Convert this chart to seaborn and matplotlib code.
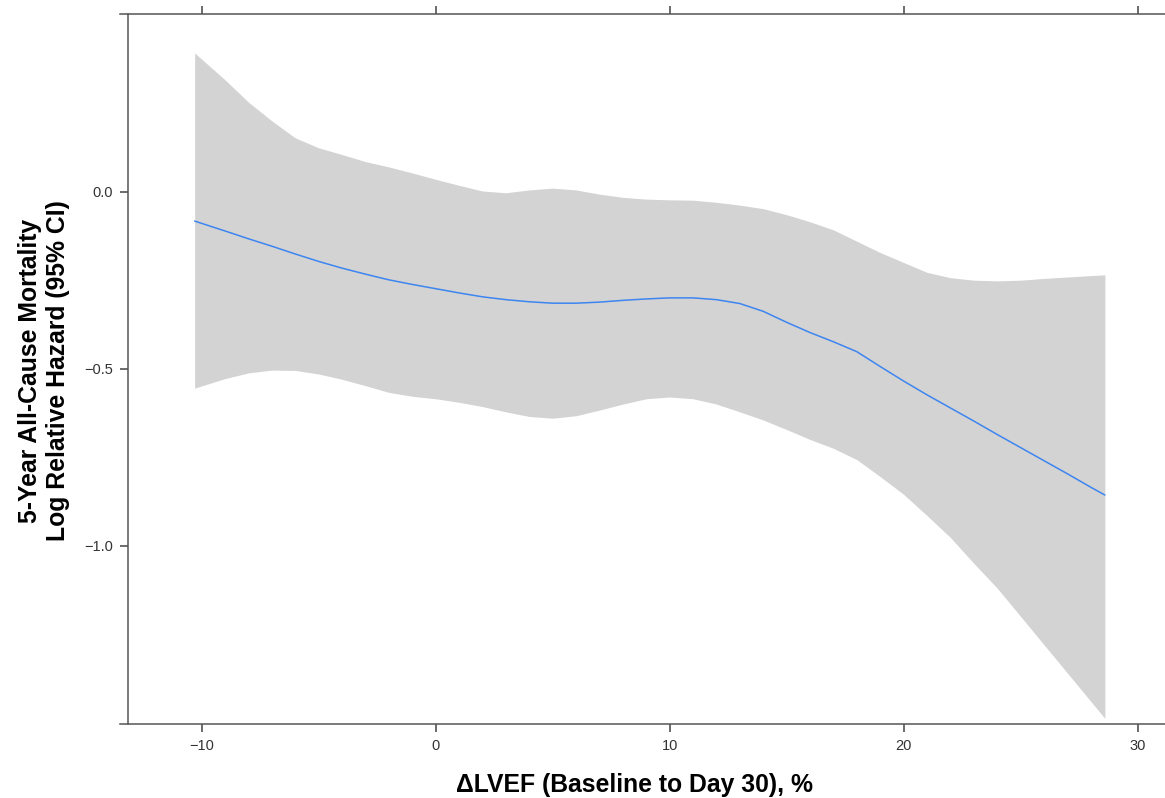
import numpy as np
import pandas as pd
import matplotlib
matplotlib.use("Agg")
import matplotlib.pyplot as plt
import seaborn as sns

# values
lvef_change = [-10.3, -9, -8, -7, -6, -5, -4, -3, -2, -1, 0, 1, 2, 3, 4, 5, 6, 7, 8, 9,
               10, 11, 12, 13, 14, 15, 16, 17, 18, 19, 20, 21, 22, 23, 24, 25, 26, 27, 28, 28.6]
log_hazard = [-0.083, -0.111, -0.133, -0.154, -0.176, -0.197, -0.216, -0.233, -0.249, -0.262,
              -0.274, -0.286, -0.297, -0.305, -0.311, -0.315, -0.315, -0.312, -0.307, -0.303,
              -0.300, -0.300, -0.305, -0.316, -0.338, -0.369, -0.398, -0.424, -0.452, -0.494,
              -0.535, -0.574, -0.611, -0.648, -0.686, -0.723, -0.760, -0.797, -0.835, -0.857]
ci_upper = [0.392, 0.316, 0.253, 0.200, 0.152, 0.124, 0.105, 0.085, 0.070, 0.053,
            0.035, 0.018, 0.002, -0.003, 0.005, 0.010, 0.005, -0.007, -0.016, -0.021,
            -0.023, -0.024, -0.030, -0.038, -0.048, -0.065, -0.085, -0.108, -0.140, -0.172,
            -0.200, -0.228, -0.243, -0.250, -0.252, -0.250, -0.245, -0.241, -0.237, -0.235]
ci_lower = [-0.555, -0.528, -0.512, -0.504, -0.505, -0.515, -0.530, -0.548, -0.567, -0.578,
            -0.585, -0.595, -0.607, -0.622, -0.635, -0.640, -0.633, -0.617, -0.600, -0.585,
            -0.580, -0.585, -0.600, -0.622, -0.645, -0.672, -0.700, -0.725, -0.757, -0.805,
            -0.855, -0.915, -0.977, -1.050, -1.120, -1.200, -1.280, -1.360, -1.440, -1.488]

x_ticks = [-10, 0, 10, 20, 30]
y_ticks = [-1.0, -0.5, 0.0]

df = pd.DataFrame({"x": lvef_change, "est": log_hazard,
                   "lo": ci_lower, "hi": ci_upper})

sns.set_theme(style="ticks")
plt.rcParams["font.family"] = ["Liberation Sans", "DejaVu Sans"]

fig = plt.figure(figsize=(11.65, 7.98), dpi=100)
ax = fig.add_axes([120 / 1165, 74.3 / 798, 1045 / 1165, 709.7 / 798])

ax.fill_between(df["x"], df["lo"], df["hi"], color="#d3d3d3", linewidth=0, zorder=1)
sns.lineplot(data=df, x="x", y="est", ax=ax, color="#3d85f0", linewidth=1.1, zorder=2)

ax.set_xlim(-13.49, 31.17)
ax.set_ylim(-1.503, 0.502)
ax.set_xticks(x_ticks)
ax.set_yticks(y_ticks)
ax.set_yticklabels(["\u22121.0", "\u22120.5", "0.0"])

for side in ["left", "top", "bottom"]:
    ax.spines[side].set_color("#555555")
    ax.spines[side].set_linewidth(1.1)
ax.spines["right"].set_visible(False)
ax.spines["left"].set_position(("data", -13.15))

ax.tick_params(axis="x", top=True, labeltop=False, direction="out", length=6,
               width=1.1, color="#444444", labelsize=10.5, labelcolor="#333333", pad=5)
ax.tick_params(axis="y", direction="out", length=6, width=1.1, color="#444444",
               labelsize=10.5, labelcolor="#333333", pad=5)

ax.set_xlabel("\u0394LVEF (Baseline to Day 30), %", fontsize=17.8, fontweight="bold",
              color="black")
ax.set_ylabel("5-Year All-Cause Mortality\nLog Relative Hazard (95% CI)",
              fontsize=17.8, fontweight="bold", color="black", multialignment="center")
ax.xaxis.set_label_coords(0.492, -0.069)
ax.yaxis.set_label_coords(-0.048, 0.497)

fig.savefig("out.png", dpi=100)
